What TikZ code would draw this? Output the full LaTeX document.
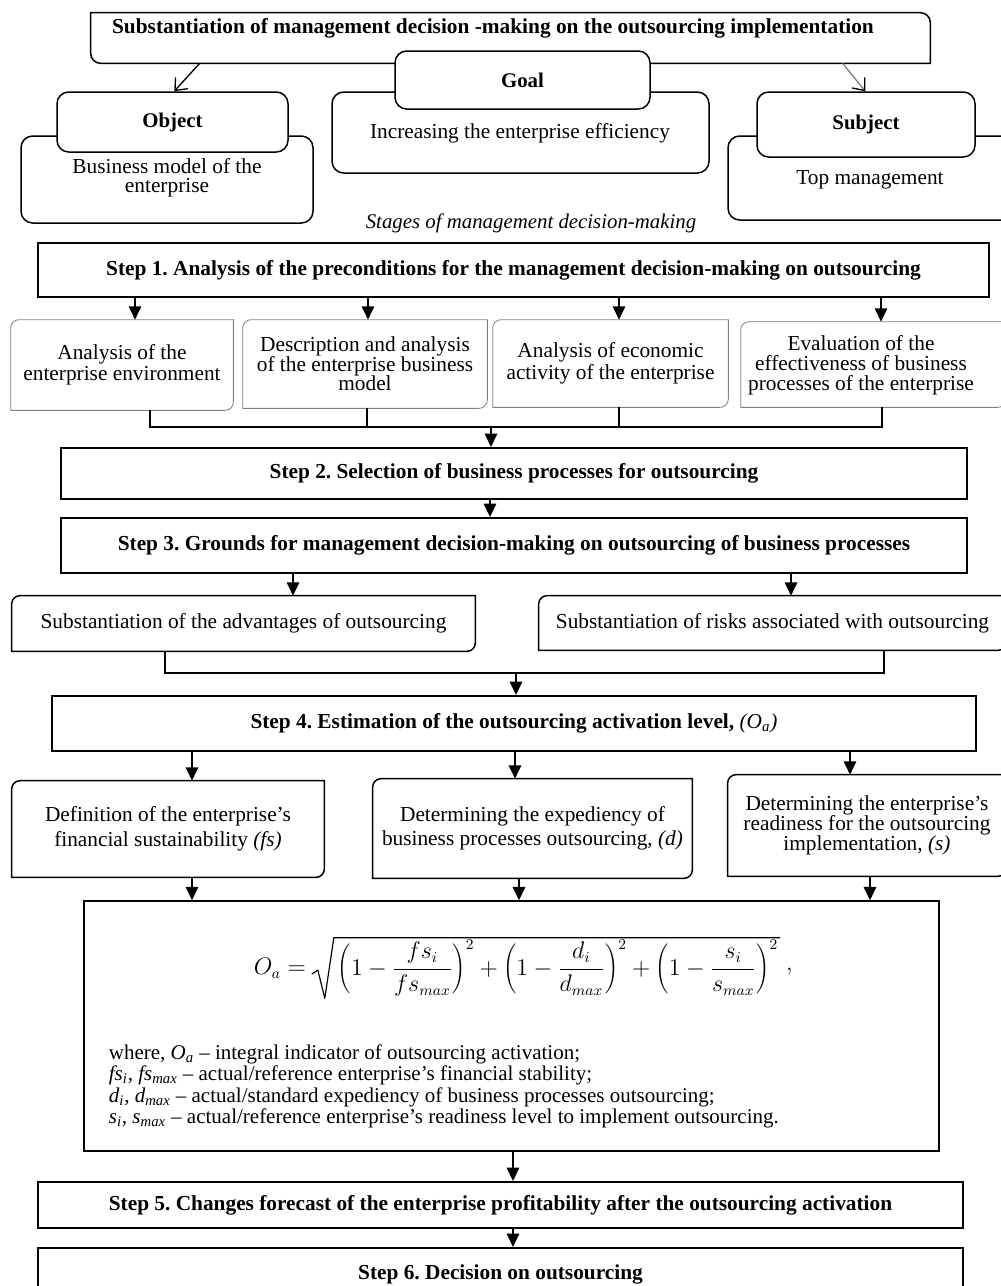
\documentclass[tikz,border=0pt]{standalone}
\usepackage{fontspec}
\setmainfont{Liberation Serif}
\usetikzlibrary{arrows.meta, calc}
\frenchspacing
\newcommand{\px}[1]{#1*0.6pt}
% frames with two rounded corners
\newcommand{\cornerTLBR}[2][]{%
  \draw[#1] (#2.south west) -- ([yshift=-5pt]#2.north west)
    arc[start angle=180, end angle=90, radius=5pt] -- (#2.north east)
    -- ([yshift=5pt]#2.south east)
    arc[start angle=0, end angle=-90, radius=5pt] -- cycle;}
\newcommand{\cornerTRBL}[2][]{%
  \draw[#1] (#2.north west) -- ([xshift=-6pt]#2.north east)
    arc[start angle=90, end angle=0, radius=6pt] -- (#2.south east)
    -- ([xshift=6pt]#2.south west)
    arc[start angle=270, end angle=180, radius=6pt] -- cycle;}
\tikzset{
  cell/.style 2 args={inner sep=0pt, minimum width=\px{#1}, minimum height=\px{#2}},
  frame/.style 2 args={cell={#1}{#2}, draw, fill=white, line width=0.9pt, rounded corners=7pt},
  plainbox/.style 2 args={cell={#1}{#2}, draw, line width=0.9pt},
  stepbox/.style 2 args={cell={#1}{#2}, draw, line width=1.2pt, font=\bfseries\fontsize{12.8}{14}\selectfont},
  lbl/.style={align=center, font=\fontsize{12.8}{#1}\selectfont},
  lbl/.default=12.5,
  head/.style={font=\bfseries\fontsize{12.5}{14}\selectfont},
  mathtxt/.style={font=\fontsize{13.4}{15}\selectfont, inner sep=1pt},
  arrow/.style={-{Triangle[length=8pt, width=7.5pt]}, line width=0.8pt},
  barb/.style={-{Straight Barb[length=6pt, width=10pt, color=black]}, line width=0.8pt},
}
\begin{document}
\begin{tikzpicture}[x=0.6pt, y=-0.6pt]
  \clip (0,0) rectangle (1001,1286);
  % decision with object, goal and subject
  \node[cell={839}{50}] (decision) at (510.5,38) {};
  \cornerTRBL[line width=0.9pt]{decision}
  \node[head, font=\bfseries\fontsize{12.8}{14}\selectfont] (decisiontxt) at (493,28) {Substantiation of management decision -making on the outsourcing implementation};
  \node[frame={292}{87}] (objbody) at (167,179.5) {};
  \node[frame={231}{60}, head] (obj) at (172.5,122) {Object};
  \node[lbl=11.5] (objtxt) at (167,178) {Business model of the\\enterprise};
  \node[frame={377}{81}] (goalbody) at (520.5,132.5) {};
  \node[frame={255}{58}, head] (goal) at (522.5,80) {Goal};
  \node[lbl] (goaltxt) at (520,133) {Increasing the enterprise efficiency};
  \node[frame={290}{84}] (subjbody) at (873,178) {};
  \node[frame={218}{65}, head] (subj) at (866,124.5) {Subject};
  \node[lbl] (subjtxt) at (870,180) {Top management};
  \draw[barb] ($(decision.south west)+(109,0)$) -- ($(obj.north west)+(118,0)$);
  \draw[barb, draw=gray] ($(decision.south west)+(752,0)$) -- ($(subj.north west)+(109,0)$);
  \node[font=\itshape\fontsize{12.5}{14}\selectfont] (stages) at (531,223) {Stages of management decision-making};
  % step 1
  \node[stepbox={951}{54}] (step1) at (513.5,270) {Step 1. Analysis of the preconditions for the management decision-making on outsourcing};
  \node[cell={222}{90}, lbl] (pre1) at (122,365) {Analysis of the\\enterprise environment};
  \node[cell={244}{88}, lbl=11.8] (pre2) at (365,364) {Description and analysis\\of the enterprise business\\model};
  \node[cell={235}{87}, lbl=13.5] (pre3) at (610.5,363.5) {Analysis of economic\\activity of the enterprise};
  \node[cell={265}{85}] (pre4) at (873.5,364.5) {};
  \node[lbl=12] (pre4txt) at (861,365) {Evaluation of the\\effectiveness of business\\processes of the enterprise};
  \foreach \b in {pre1, pre2, pre3, pre4}
    \cornerTLBR[draw=gray, line width=0.5pt]{\b};
  \foreach \x/\b in {135/pre1, 368/pre2, 619/pre3, 881/pre4}
    \draw[arrow] (step1.south -| \x,0) -- (\b.north -| \x,0);
  \coordinate (bus1) at (491,427);
  \foreach \x/\b in {150/pre1, 367/pre2, 619/pre3, 882/pre4}
    \draw[line width=0.8pt] (\b.south -| \x,0) |- (bus1);
  % step 2 and step 3
  \node[stepbox={906}{51}] (step2) at (514,473.5) {Step 2. Selection of business processes for outsourcing};
  \draw[arrow] (bus1) -- (step2.north -| bus1);
  \node[stepbox={906}{55}] (step3) at (514,545.5) {Step 3. Grounds for management decision-making on outsourcing of business processes};
  \draw[arrow] (step2.south -| 490,0) -- (step3.north -| 490,0);
  \node[cell={463}{55}, lbl] (adv) at (243.5,623.5) {Substantiation of the advantages of outsourcing};
  \node[cell={467}{54}, lbl] (risk) at (772.5,623) {Substantiation of risks associated with outsourcing};
  \cornerTLBR[line width=0.9pt]{adv}
  \cornerTLBR[line width=0.9pt]{risk}
  \draw[arrow] (step3.south -| 293,0) -- (adv.north -| 293,0);
  \draw[arrow] (step3.south -| 791,0) -- (risk.north -| 791,0);
  \coordinate (bus2) at (516,673);
  \draw[line width=0.8pt] (adv.south -| 165,0) |- (bus2);
  \draw[line width=0.8pt] (risk.south -| 884,0) |- (bus2);
  % step 4
  \node[stepbox={924}{55}] (step4) at (514,723.5) {Step 4. Estimation of the outsourcing activation level, \textit{\mdseries(O\textsubscript{a})}};
  \draw[arrow] (bus2) -- (step4.north -| bus2);
  \node[cell={312}{96}, lbl=15] (fin) at (168,829) {Definition of the enterprise’s\\financial sustainability \textit{(fs)}};
  \node[cell={319}{99}, lbl=14.4] (exped) at (532.5,828.5) {Determining the expediency of\\business processes outsourcing, \textit{(d)}};
  \node[cell={278}{101}, lbl=12] (ready) at (867,825.5) {Determining the enterprise's\\readiness for the outsourcing\\implementation, \textit{(s)}};
  \foreach \b in {fin, exped, ready}
    \cornerTLBR[line width=0.9pt]{\b};
  \draw[arrow] (step4.south -| 192,0) -- (fin.north -| 192,0);
  \draw[arrow] (step4.south -| 515,0) -- (exped.north -| 515,0);
  \draw[arrow] (step4.south -| 850,0) -- (ready.north -| 850,0);
  % integral indicator
  \node[plainbox={855}{250}] (calc) at (511.5,1026) {};
  \draw[arrow] (fin.south -| 192,0) -- (calc.north -| 192,0);
  \draw[arrow] (exped.south -| 519,0) -- (calc.north -| 519,0);
  \draw[arrow] (ready.south -| 870,0) -- (calc.north -| 870,0);
  \node[mathtxt] (radicand) at (558,968)
    {$\displaystyle\Biggl(1-\frac{fs_i}{fs_{max}}\Biggr)^{2}+\Biggl(1-\frac{d_i}{d_{max}}\Biggr)^{2}+\Biggl(1-\frac{s_i}{s_{max}}\Biggr)^{2}$};
  \draw[line width=0.7pt, line join=round] ($(radicand.west)+(-24,6)$) -- ++(6,-4)
    -- ($(radicand.south west)+(-11,0)$) -- ($(radicand.north west)+(-2,0)$) -- (radicand.north east);
  \node[mathtxt, anchor=east] (lhs) at ($(radicand.west)+(-28,0)$) {$O_a=$};
  \node[mathtxt, anchor=west] (comma) at ($(radicand.east)+(4,4)$) {$,$};
  \node[anchor=west, align=left, font=\fontsize{12.6}{12.8}\selectfont] (legend) at (103,1086.5)
    {where, \textit{O\textsubscript{a}} – integral indicator of outsourcing activation;\\
     \textit{fs\textsubscript{i}, fs\textsubscript{max}} – actual/reference enterprise’s financial stability;\\
     \textit{d\textsubscript{i}, d\textsubscript{max}} – actual/standard expediency of business processes outsourcing;\\
     \textit{s\textsubscript{i}, s\textsubscript{max}} – actual/reference enterprise’s readiness level to implement outsourcing.};
  % step 5 and step 6
  \node[stepbox={925}{46}] (step5) at (500.5,1205) {Step 5. Changes forecast of the enterprise profitability after the outsourcing activation};
  \node[stepbox={925}{52}] (step6) at (500.5,1274) {Step 6. Decision on outsourcing};
  \draw[arrow] (calc.south -| 513,0) -- (step5.north -| 513,0);
  \draw[arrow] (step5.south -| 513,0) -- (step6.north -| 513,0);
\end{tikzpicture}
\end{document}
